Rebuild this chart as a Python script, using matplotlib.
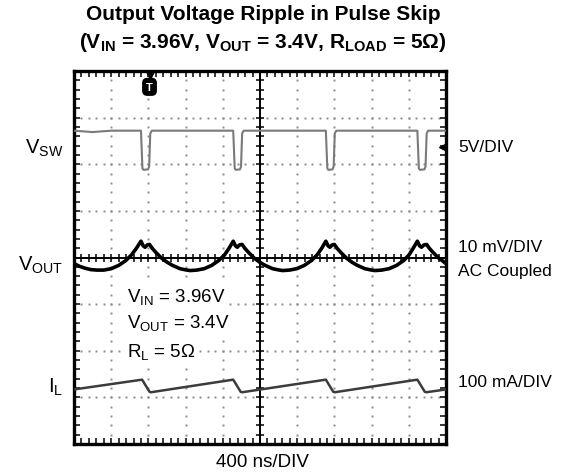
import matplotlib
matplotlib.use("Agg")
import matplotlib.pyplot as plt
from matplotlib.ticker import MultipleLocator

plt.rcParams['font.family'] = ['Liberation Sans', 'DejaVu Sans']
plt.rcParams['mathtext.fontset'] = 'custom'
plt.rcParams['mathtext.rm'] = 'Liberation Sans'
plt.rcParams['mathtext.it'] = 'Liberation Sans'
plt.rcParams['mathtext.bf'] = 'Liberation Sans:bold'

# ---- trace data (time and amplitude in screen divisions) ----
vsw_t = [0.00, 0.50, 1.00, 1.80, 1.84, 1.87, 1.99, 2.02, 2.05, 2.09,
         4.28, 4.32, 4.35, 4.46, 4.49, 4.52, 4.56,
         6.77, 6.81, 6.84, 6.95, 6.98, 7.01, 7.05,
         9.23, 9.27, 9.30, 9.42, 9.45, 9.48, 9.52, 10.00]
vsw_v = [2.72, 2.69, 2.72, 2.72, 1.91, 1.88, 1.89, 1.95, 2.66, 2.72,
         2.72, 1.91, 1.88, 1.89, 1.95, 2.66, 2.72,
         2.72, 1.91, 1.88, 1.89, 1.95, 2.66, 2.72,
         2.72, 1.91, 1.88, 1.89, 1.95, 2.66, 2.72, 2.72]

vout_t = [0.00, 0.15, 0.30, 0.45, 0.62, 0.80, 1.00, 1.20, 1.40, 1.55, 1.68, 1.80,
          1.86, 1.91, 1.97, 2.03, 2.10, 2.20, 2.35, 2.50, 2.65, 2.85, 3.00, 3.12,
          3.30, 3.50, 3.70, 3.90, 4.05, 4.17, 4.28,
          4.34, 4.39, 4.45, 4.52, 4.59, 4.69, 4.84, 4.99, 5.14, 5.34, 5.49, 5.61,
          5.79, 5.99, 6.19, 6.39, 6.54, 6.66, 6.77,
          6.83, 6.88, 6.94, 7.00, 7.07, 7.17, 7.32, 7.47, 7.62, 7.82, 7.97, 8.09,
          8.27, 8.47, 8.67, 8.87, 9.01, 9.12, 9.23,
          9.29, 9.34, 9.41, 9.48, 9.55, 9.65, 9.80, 9.92, 10.00]
vout_v = [-0.13, -0.19, -0.23, -0.26, -0.27, -0.27, -0.24, -0.17, -0.06, 0.06, 0.20, 0.35,
          0.25, 0.22, 0.27, 0.28, 0.20, 0.11, -0.01, -0.10, -0.17, -0.24, -0.265, -0.28,
          -0.27, -0.24, -0.17, -0.06, 0.06, 0.20, 0.35,
          0.25, 0.22, 0.27, 0.28, 0.20, 0.11, -0.01, -0.10, -0.17, -0.24, -0.265, -0.28,
          -0.27, -0.24, -0.17, -0.06, 0.06, 0.20, 0.35,
          0.25, 0.22, 0.27, 0.28, 0.20, 0.11, -0.01, -0.10, -0.17, -0.24, -0.265, -0.28,
          -0.27, -0.24, -0.17, -0.06, 0.06, 0.20, 0.35,
          0.25, 0.22, 0.27, 0.28, 0.20, 0.11, -0.01, -0.08, -0.13]

il_t = [0.00, 1.83, 2.03, 2.07, 4.28, 4.48, 4.52, 6.77, 6.97, 7.01,
        9.23, 9.43, 9.47, 10.00]
il_v = [-2.83, -2.62, -2.88, -2.89, -2.62, -2.88, -2.89, -2.62, -2.88, -2.89,
        -2.62, -2.88, -2.89, -2.83]

trigger_t = 2.03
ch1_ref_level = 2.37

left_labels = [r'V$_{\mathrm{SW}}$', r'V$_{\mathrm{OUT}}$', r'I$_{\mathrm{L}}$']
right_labels = ['5V/DIV', '10 mV/DIV', 'AC Coupled', '100 mA/DIV']
cond_labels = [r'V$_{\mathrm{IN}}$ = 3.96V', r'V$_{\mathrm{OUT}}$ = 3.4V', r'R$_{\mathrm{L}}$ = 5Ω']
time_label = '400 ns/DIV'
title_1 = 'Output Voltage Ripple in Pulse Skip'
title_2 = (r'(V$_{\mathbf{IN}}$ = 3.96V, V$_{\mathbf{OUT}}$ = 3.4V, '
           r'R$_{\mathbf{LOAD}}$ = 5Ω)')

W, H = 566, 477
fig = plt.figure(figsize=(W / 100, H / 100), dpi=100)
fig.patch.set_facecolor('white')
ax = fig.add_axes([74 / W, 32 / H, 372 / W, 373 / H])
ax.set_xlim(0, 10)
ax.set_ylim(-4, 4)


def px(x, y):
    return x / W, 1 - y / H


# graticule: dotted division lines
dot_col = '#8a8a8a'
fine_y = [i * 0.2 - 4 for i in range(41)]
fine_x = [i * 0.2 for i in range(51)]
for gx in range(1, 10):
    if gx != 5:
        ax.plot([gx] * len(fine_y), fine_y, ls='none', marker='s', ms=1.4,
                mew=0, color=dot_col, zorder=1)
for gy in range(-3, 4):
    if gy != 0:
        ax.plot(fine_x, [gy] * len(fine_x), ls='none', marker='s', ms=1.4,
                mew=0, color=dot_col, zorder=1)

# centre axes with fine ticks
ax.axhline(0, color='black', lw=1.4, zorder=2)
ax.axvline(5, color='black', lw=1.4, zorder=2)
ax.plot(fine_x, [0] * len(fine_x), ls='none', marker='|', ms=6, mew=1.1,
        color='black', zorder=2)
ax.plot([5] * len(fine_y), fine_y, ls='none', marker='_', ms=6, mew=1.1,
        color='black', zorder=2)

# frame with inward ticks
for sp in ax.spines.values():
    sp.set_linewidth(2.4)
ax.xaxis.set_major_locator(MultipleLocator(0.2))
ax.yaxis.set_major_locator(MultipleLocator(0.2))
ax.tick_params(direction='in', length=4, width=1.1, top=True, right=True,
               labelbottom=False, labelleft=False)

# traces
ax.plot(vsw_t, vsw_v, color='#7a7a7a', lw=1.5, zorder=4)
ax.plot(vout_t, vout_v, color='black', lw=2.6, zorder=4, solid_joinstyle='round')
ax.plot(il_t, il_v, color='#3c3c3c', lw=1.8, zorder=4)

# trigger and reference markers
ax.plot([trigger_t], [3.92], marker='v', ms=6, color='black', zorder=5, clip_on=False)
ax.text(trigger_t, 3.66, 'T', color='white', fontsize=8, fontweight='bold',
        ha='center', va='center', zorder=6,
        bbox=dict(boxstyle='round,pad=0.3,rounding_size=0.4', fc='black', ec='black'))
ax.plot([9.88], [ch1_ref_level], marker='<', ms=4.5, color='black', zorder=5)

# channel labels
for lab, y in zip(left_labels, [148, 265, 387]):
    fig.text(*px(63, y), lab, fontsize=14.5, ha='right', va='center')
for lab, y in zip(right_labels, [148, 248, 272, 383]):
    fig.text(*px(458, y), lab, fontsize=12.5, ha='left', va='center')

# operating conditions
for lab, y in zip(cond_labels, [297, 323, 352]):
    ax.text(*px(127, y), lab, transform=fig.transFigure, fontsize=13.5,
            ha='left', va='center', zorder=6,
            bbox=dict(boxstyle='square,pad=0.1', fc='white', ec='none'))

fig.text(*px(262, 463), time_label, fontsize=13.5, ha='center', va='center')

fig.text(*px(263, 14), title_1, fontsize=15, fontweight='bold',
         ha='center', va='center')
fig.text(*px(263, 43), title_2, fontsize=15, fontweight='bold',
         ha='center', va='center')

fig.savefig('out.png', dpi=100, facecolor='white')
